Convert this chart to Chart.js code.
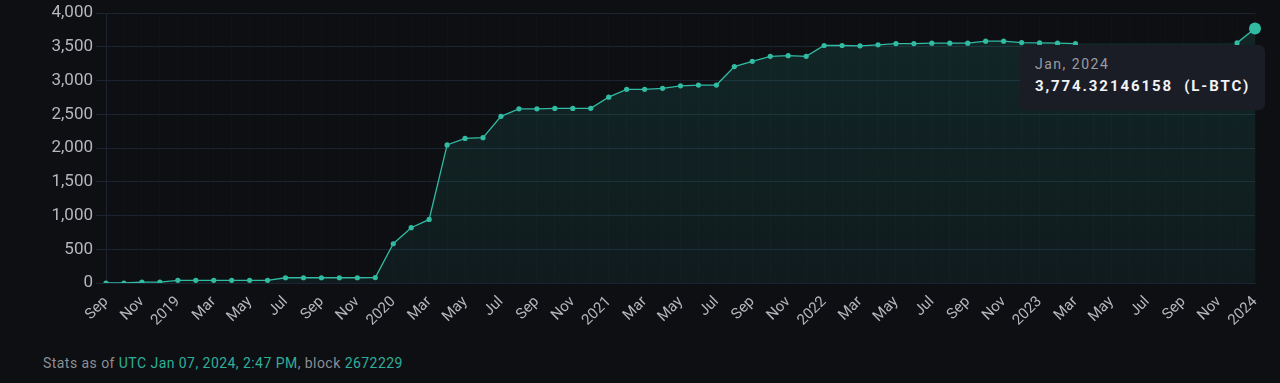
<!DOCTYPE html>
<html>
<head>
<meta charset="utf-8">
<script src="https://cdn.jsdelivr.net/npm/chart.js@4/dist/chart.umd.min.js"></script>
<style>
  html, body { margin: 0; padding: 0; background: #0e0f13; }
  body { width: 1280px; height: 383px; position: relative; overflow: hidden; font-family: Roboto, "Noto Sans", sans-serif; }
  #wrap { position: absolute; left: 0; top: 0; width: 1280px; height: 340px; }
  #tip {
    position: absolute; background: #1b1d26; border-radius: 6px;
    padding: 9px 15px 13px 15px; pointer-events: none; opacity: 0; white-space: nowrap;
  }
  #tip .t { color: #9a9ca3; font-size: 14px; letter-spacing: 1.5px; line-height: 21px; }
  #tip .b { color: #f2f3f5; font-size: 15px; font-weight: bold; letter-spacing: 1.9px; line-height: 22px; }
  #footer { position: absolute; left: 43px; top: 355px; font-size: 14px; color: #8b8e95; letter-spacing: 0.45px; }
  #footer .hl { color: #2fae9a; }
</style>
</head>
<body>
<div id="wrap"><canvas id="chart"></canvas></div>
<div id="tip"><div class="t"></div><div class="b"></div></div>
<div id="footer">Stats as of <span class="hl">UTC Jan 07, 2024, 2:47 PM</span>, block <span class="hl">2672229</span></div>
<script>
// months (YYYY-MM)
const months = [
  '2018-09','2018-10','2018-11','2018-12',
  '2019-01','2019-02','2019-03','2019-04','2019-05','2019-06','2019-07','2019-08','2019-09','2019-10','2019-11','2019-12',
  '2020-01','2020-02','2020-03','2020-04','2020-05','2020-06','2020-07','2020-08','2020-09','2020-10','2020-11','2020-12',
  '2021-01','2021-02','2021-03','2021-04','2021-05','2021-06','2021-07','2021-08','2021-09','2021-10','2021-11','2021-12',
  '2022-01','2022-02','2022-03','2022-04','2022-05','2022-06','2022-07','2022-08','2022-09','2022-10','2022-11','2022-12',
  '2023-01','2023-02','2023-03','2023-04','2023-05','2023-06','2023-07','2023-08','2023-09','2023-10','2023-11','2023-12',
  '2024-01'
];

// L-BTC amount per month
const lbtc = [
  0, 0, 12, 12,
  40, 40, 40, 40, 40, 40, 78, 78, 78, 78, 78, 80,
  582, 820, 942, 2047, 2144, 2154, 2471, 2583, 2583, 2588, 2588, 2590,
  2755, 2872, 2872, 2886, 2923, 2935, 2935, 3209, 3287, 3360, 3370, 3360,
  3521, 3521, 3516, 3531, 3550, 3550, 3556, 3556, 3556, 3585, 3585, 3565,
  3560, 3556, 3550, 3555, 3555, 3555, 3555, 3555, 3555, 3555, 3555, 3560,
  3774.32146158
];

const yTicks = [0, 500, 1000, 1500, 2000, 2500, 3000, 3500, 4000];

const monthNames = ['Jan','Feb','Mar','Apr','May','Jun','Jul','Aug','Sep','Oct','Nov','Dec'];
const teal = '#30bba2';
const gridColor = '#1b2430';

// in the screenshot the tooltip hides this stretch of the line
const hideFrom = 54, hideTo = 63;

function tickLabel(m) {
  const [y, mo] = m.split('-');
  return mo === '01' ? y : monthNames[+mo - 1];
}

function externalTip({ chart, tooltip }) {
  const el = document.getElementById('tip');
  if (tooltip.opacity === 0 || !tooltip.dataPoints || !tooltip.dataPoints.length) {
    el.style.opacity = 0;
    return;
  }
  const dp = tooltip.dataPoints[0];
  const [y, mo] = months[dp.dataIndex].split('-');
  el.querySelector('.t').textContent = monthNames[+mo - 1] + ', ' + y;
  el.querySelector('.b').textContent =
    dp.raw.toLocaleString('en-US', { maximumFractionDigits: 8 }) + '\u00a0\u00a0(L-BTC)';
  el.style.opacity = 1;
  el.style.left = (dp.element.x + 10 - el.offsetWidth) + 'px';
  el.style.top = (dp.element.y + 17) + 'px';
}

const ctx = document.getElementById('chart').getContext('2d');
const chart = new Chart(ctx, {
  type: 'line',
  data: {
    labels: months,
    datasets: [{
      data: lbtc,
      borderColor: teal,
      borderWidth: 1.3,
      pointBackgroundColor: teal,
      pointBorderWidth: 0,
      pointRadius: c => (c.dataIndex > hideFrom && c.dataIndex < hideTo) ? 0 : 2.6,
      pointHoverRadius: 6,
      pointHoverBorderWidth: 0,
      pointHoverBackgroundColor: teal,
      tension: 0,
      fill: 'origin',
      segment: {
        borderColor: s => (s.p0DataIndex >= hideFrom && s.p1DataIndex <= hideTo) ? 'transparent' : teal
      },
      backgroundColor: c => {
        const area = c.chart.chartArea;
        if (!area) return 'rgba(40,160,140,0.1)';
        const g = c.chart.ctx.createLinearGradient(0, area.top, 0, area.bottom);
        g.addColorStop(0, 'rgba(38,150,135,0.18)');
        g.addColorStop(1, 'rgba(38,150,135,0.09)');
        return g;
      }
    }]
  },
  options: {
    responsive: true,
    maintainAspectRatio: false,
    animation: false,
    events: [],
    layout: { padding: { top: 10, right: 25, left: 0, bottom: 0 } },
    plugins: {
      legend: { display: false },
      tooltip: { enabled: false, external: externalTip, mode: 'index', intersect: false }
    },
    scales: {
      x: {
        offset: false,
        grid: { color: 'rgba(255,255,255,0.014)', drawTicks: false },
        border: { color: gridColor },
        ticks: {
          autoSkip: false,
          minRotation: 45,
          maxRotation: 45,
          padding: 10,
          color: '#b4b7bd',
          font: { family: 'Roboto', size: 15 },
          callback: (v, i) => i % 2 === 0 ? tickLabel(months[i]) : ''
        },
        afterFit: s => { s.height = 57; }
      },
      y: {
        min: 0,
        max: 4000,
        afterBuildTicks: s => { s.ticks = yTicks.map(v => ({ value: v })); },
        grid: { color: gridColor, tickLength: 10 },
        border: { color: gridColor },
        ticks: {
          padding: 3,
          color: '#b4b7bd',
          font: { family: 'Roboto', size: 17 },
          callback: v => v.toLocaleString('en-US')
        },
        afterFit: s => { s.width = 106; }
      }
    }
  }
});

const last = [{ datasetIndex: 0, index: lbtc.length - 1 }];
chart.setActiveElements(last);
chart.tooltip.setActiveElements(last, { x: 0, y: 0 });
chart.update();
</script>
</body>
</html>
